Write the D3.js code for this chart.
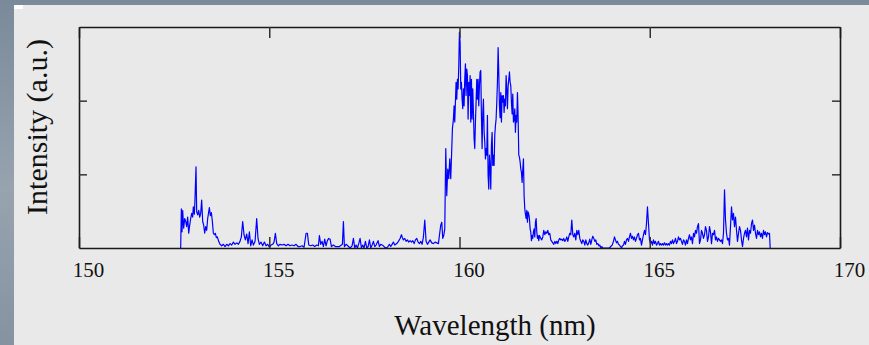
<!DOCTYPE html>
<html>
<head>
<meta charset="utf-8">
<script src="https://cdn.jsdelivr.net/npm/d3@7"></script>
<style>
  html, body { margin: 0; padding: 0; }
  body { width: 869px; height: 345px; overflow: hidden; }
  text { font-family: "Liberation Serif", "Times New Roman", serif; fill: #111; }
</style>
</head>
<body>
<div id="chart"></div>
<script>
// x ticks (nm) and inner y ticks (a.u.)
const xTicks = [150, 155, 160, 165, 170];
const yTicks = [1, 2];

// spectrum
const wavelength = [
  152.672, 152.690, 152.708, 152.725, 152.751, 152.778, 152.804, 152.830, 152.856, 152.883,
  152.909, 152.935, 152.962, 152.988, 153.005, 153.032, 153.049, 153.075, 153.093, 153.119,
  153.146, 153.172, 153.198, 153.224, 153.251, 153.277, 153.303, 153.330, 153.356, 153.382,
  153.409, 153.426, 153.452, 153.479, 153.505, 153.531, 153.558, 153.584, 153.610, 153.636,
  153.671, 153.706, 153.750, 153.794, 153.838, 153.882, 153.926, 153.969, 154.013, 154.057,
  154.101, 154.145, 154.189, 154.232, 154.267, 154.302, 154.337, 154.372, 154.408, 154.443,
  154.478, 154.513, 154.548, 154.583, 154.627, 154.670, 154.705, 154.740, 154.784, 154.828,
  154.872, 154.916, 154.960, 155.003, 155.047, 155.091, 155.126, 155.161, 155.196, 155.240,
  155.284, 155.336, 155.389, 155.441, 155.494, 155.547, 155.599, 155.652, 155.704, 155.757,
  // 155.8 - 159.2
  155.810, 155.863, 155.915, 155.968, 156.003, 156.038, 156.090, 156.143, 156.195, 156.248,
  156.292, 156.318, 156.353, 156.388, 156.423, 156.458, 156.493, 156.528, 156.563, 156.599,
  156.634, 156.686, 156.739, 156.791, 156.844, 156.896, 156.923, 156.949, 156.975, 157.019,
  157.063, 157.124, 157.177, 157.212, 157.247, 157.282, 157.317, 157.352, 157.387, 157.422,
  157.457, 157.492, 157.527, 157.563, 157.598, 157.633, 157.668, 157.703, 157.738, 157.773,
  157.808, 157.860, 157.895, 157.930, 158.000, 158.053, 158.106, 158.158, 158.193, 158.228,
  158.263, 158.298, 158.351, 158.395, 158.439, 158.474, 158.500, 158.526, 158.561, 158.596,
  158.631, 158.666, 158.702, 158.737, 158.772, 158.807, 158.842, 158.877, 158.912, 158.947,
  158.982, 159.017, 159.052, 159.087, 159.122, 159.157, 159.192, 159.227,
  // main band
  159.271, 159.315, 159.358, 159.402, 159.446, 159.472, 159.507, 159.534, 159.560, 159.586,
  159.613, 159.639, 159.665, 159.691, 159.718, 159.744, 159.770, 159.797, 159.814, 159.840,
  159.858, 159.875, 159.893, 159.910, 159.928, 159.946, 159.963, 159.981, 159.998, 160.016,
  160.033, 160.051, 160.068, 160.086, 160.103, 160.121, 160.138, 160.156, 160.173, 160.191,
  160.208, 160.226, 160.244, 160.261, 160.279, 160.296, 160.314, 160.331, 160.349, 160.366,
  160.384, 160.401, 160.419, 160.436, 160.454, 160.471, 160.489, 160.506, 160.524, 160.541,
  160.559, 160.576, 160.594, 160.612, 160.629, 160.647, 160.664, 160.682, 160.699, 160.717,
  160.734, 160.752, 160.769, 160.787, 160.804, 160.822, 160.839, 160.857, 160.874, 160.892,
  160.909, 160.927, 160.944, 160.962, 160.980, 160.997, 161.015, 161.032, 161.050, 161.067,
  161.085, 161.102, 161.120, 161.137, 161.155, 161.172, 161.190, 161.207, 161.225, 161.242,
  161.260, 161.278, 161.295, 161.313, 161.330, 161.348, 161.365, 161.383, 161.400, 161.418,
  161.435, 161.453, 161.470, 161.488, 161.505, 161.523, 161.540, 161.558, 161.576, 161.593,
  161.611, 161.628, 161.646, 161.663, 161.681, 161.698, 161.716, 161.733, 161.751, 161.768,
  161.786, 161.803, 161.821, 161.838, 161.856, 161.873, 161.891, 161.909, 161.926, 161.944,
  161.961, 161.979, 161.996, 162.014, 162.031, 162.049, 162.066, 162.084, 162.101,
  // 162.1 - 168.2
  162.136, 162.163, 162.189, 162.215, 162.241, 162.268, 162.294, 162.320, 162.347, 162.373,
  162.399, 162.425, 162.452, 162.478, 162.504, 162.531, 162.557, 162.583, 162.610, 162.636,
  162.662, 162.688, 162.715, 162.741, 162.767, 162.794, 162.820, 162.846, 162.872, 162.899,
  162.925, 162.951, 162.978, 163.004, 163.030, 163.056, 163.083, 163.109, 163.135, 163.162,
  163.188, 163.214, 163.240, 163.267, 163.293, 163.319, 163.346, 163.372, 163.398, 163.424,
  163.451, 163.477, 163.503, 163.530, 163.556, 163.582, 163.608, 163.635, 163.661, 163.687,
  163.714, 163.740, 163.766, 163.801, 163.836, 163.871, 163.906, 163.941, 163.976, 164.012,
  164.047, 164.073, 164.099, 164.126, 164.152, 164.178, 164.204, 164.231, 164.257, 164.283,
  164.310, 164.336, 164.362, 164.388, 164.415, 164.441, 164.467, 164.494, 164.520, 164.546,
  164.572, 164.599, 164.625, 164.651, 164.678, 164.704, 164.730, 164.756, 164.783, 164.809,
  164.835, 164.862, 164.888, 164.914, 164.940, 164.967, 164.993, 165.019, 165.046, 165.072,
  165.098, 165.124, 165.151, 165.177, 165.203, 165.230, 165.256, 165.282, 165.308, 165.335,
  165.361, 165.387, 165.414, 165.440, 165.466, 165.492, 165.519, 165.545, 165.571, 165.598,
  165.624, 165.650, 165.676, 165.703, 165.729, 165.755, 165.782, 165.808, 165.834, 165.860,
  165.887, 165.913, 165.939, 165.966, 165.992, 166.018, 166.044, 166.071, 166.097, 166.123,
  166.150, 166.176, 166.202, 166.228, 166.255, 166.281, 166.307, 166.334, 166.360, 166.386,
  166.412, 166.439, 166.465, 166.491, 166.518, 166.544, 166.570, 166.596, 166.623, 166.649,
  166.675, 166.702, 166.728, 166.754, 166.780, 166.807, 166.833, 166.859, 166.886, 166.912,
  166.938, 166.965, 166.991, 167.017, 167.043, 167.070, 167.096, 167.122, 167.149, 167.175,
  167.201, 167.227, 167.254, 167.280, 167.306, 167.333, 167.359, 167.385, 167.411, 167.438,
  167.464, 167.490, 167.517, 167.543, 167.569, 167.595, 167.622, 167.648, 167.674, 167.701,
  167.727, 167.753, 167.779, 167.806, 167.832, 167.858, 167.885, 167.911, 167.937, 167.963,
  167.990, 168.016, 168.042, 168.069, 168.095, 168.121, 168.147, 168.165
];

const intensity = [
  0.00, 0.53, 0.22, 0.51, 0.27, 0.40, 0.36, 0.29, 0.42, 0.20,
  0.31, 0.40, 0.47, 0.42, 0.56, 0.46, 0.67, 1.10, 0.49, 0.45,
  0.51, 0.42, 0.47, 0.65, 0.36, 0.31, 0.20, 0.29, 0.24, 0.40,
  0.49, 0.55, 0.44, 0.48, 0.36, 0.20, 0.18, 0.20, 0.14, 0.15,
  0.09, 0.05, 0.03, 0.05, 0.02, 0.05, 0.03, 0.06, 0.04, 0.08,
  0.05, 0.07, 0.05, 0.09, 0.15, 0.36, 0.18, 0.11, 0.19, 0.06,
  0.22, 0.03, 0.11, 0.04, 0.09, 0.40, 0.13, 0.05, 0.08, 0.03,
  0.08, 0.03, 0.05, 0.01, 0.04, 0.05, 0.08, 0.20, 0.06, 0.03,
  0.05, 0.04, 0.05, 0.03, 0.05, 0.03, 0.04, 0.03, 0.05, 0.02,
  // 155.8 - 159.2
  0.02, 0.03, 0.01, 0.20, 0.20, 0.04, 0.03, 0.04, 0.02, 0.04,
  0.03, 0.17, 0.05, 0.09, 0.02, 0.12, 0.03, 0.10, 0.13, 0.12,
  0.02, 0.04, 0.02, 0.02, 0.02, 0.04, 0.05, 0.36, 0.02, 0.05,
  0.03, 0.00, 0.03, 0.13, 0.00, 0.04, 0.00, 0.06, 0.13, 0.00,
  0.04, 0.00, 0.09, 0.00, 0.02, 0.11, 0.00, 0.04, 0.09, 0.02,
  0.04, 0.10, 0.02, 0.05, 0.03, 0.00, 0.01, 0.05, 0.02, 0.05,
  0.08, 0.04, 0.06, 0.09, 0.13, 0.18, 0.14, 0.11, 0.13, 0.09,
  0.11, 0.08, 0.10, 0.08, 0.10, 0.06, 0.11, 0.13, 0.08, 0.06,
  0.09, 0.05, 0.15, 0.38, 0.09, 0.05, 0.08, 0.11,
  // main band
  0.07, 0.06, 0.08, 0.07, 0.06, 0.17, 0.31, 0.35, 0.13, 0.17,
  0.26, 1.35, 0.71, 1.07, 0.94, 1.21, 0.94, 1.35, 1.62, 1.75,
  1.93, 1.71, 1.98, 2.25, 2.02, 2.29, 2.16, 2.47, 2.93, 2.79,
  2.16, 2.25, 2.02, 1.89, 2.16, 1.93, 2.29, 2.50, 2.07, 2.43,
  2.34, 1.75, 2.25, 2.07, 2.34, 1.71, 2.29, 1.75, 2.16, 1.84,
  1.48, 1.35, 1.71, 1.98, 2.29, 2.02, 2.29, 1.93, 2.20, 2.39,
  2.41, 1.80, 1.35, 1.84, 2.02, 1.57, 1.44, 1.21, 1.35, 1.26,
  1.80, 0.98, 0.80, 1.26, 1.12, 0.80, 1.39, 1.57, 1.12, 1.26,
  1.12, 1.53, 1.66, 1.75, 1.98, 2.25, 2.72, 2.39, 1.93, 1.77,
  2.11, 1.71, 2.07, 1.98, 2.07, 1.84, 2.02, 1.93, 2.34, 2.16,
  1.89, 2.20, 2.29, 2.39, 2.25, 2.20, 1.98, 1.82, 2.09, 1.71,
  1.75, 1.89, 1.57, 1.80, 1.71, 2.11, 1.80, 1.26, 1.23, 1.17,
  1.07, 1.03, 0.89, 1.07, 1.21, 0.71, 0.53, 0.46, 0.40, 0.51,
  0.35, 0.49, 0.46, 0.40, 0.26, 0.22, 0.10, 0.17, 0.13, 0.22,
  0.26, 0.15, 0.35, 0.40, 0.22, 0.13, 0.17, 0.10, 0.17,
  // 162.1 - 168.2
  0.13, 0.11, 0.15, 0.24, 0.18, 0.22, 0.20, 0.24, 0.18, 0.20,
  0.11, 0.09, 0.07, 0.05, 0.09, 0.06, 0.09, 0.06, 0.11, 0.13,
  0.11, 0.12, 0.10, 0.13, 0.09, 0.11, 0.15, 0.09, 0.15, 0.20,
  0.18, 0.38, 0.18, 0.15, 0.20, 0.11, 0.24, 0.18, 0.24, 0.13,
  0.09, 0.06, 0.11, 0.09, 0.04, 0.11, 0.06, 0.04, 0.07, 0.12,
  0.05, 0.11, 0.16, 0.13, 0.09, 0.11, 0.05, 0.06, 0.03, 0.04,
  0.00, 0.02, 0.00, 0.00, 0.00, 0.00, 0.00, 0.00, 0.02, 0.04,
  0.09, 0.15, 0.11, 0.07, 0.09, 0.05, 0.04, 0.02, 0.00, 0.03,
  0.04, 0.09, 0.05, 0.11, 0.13, 0.09, 0.15, 0.20, 0.13, 0.16,
  0.11, 0.15, 0.09, 0.13, 0.18, 0.20, 0.11, 0.13, 0.04, 0.11,
  0.18, 0.24, 0.18, 0.33, 0.56, 0.33, 0.11, 0.06, 0.09, 0.04,
  0.11, 0.06, 0.09, 0.04, 0.06, 0.09, 0.04, 0.06, 0.04, 0.06,
  0.04, 0.07, 0.04, 0.06, 0.04, 0.06, 0.04, 0.09, 0.06, 0.11,
  0.06, 0.09, 0.13, 0.06, 0.09, 0.15, 0.11, 0.13, 0.09, 0.05,
  0.11, 0.09, 0.04, 0.11, 0.06, 0.13, 0.18, 0.11, 0.15, 0.06,
  0.20, 0.15, 0.24, 0.20, 0.29, 0.33, 0.06, 0.11, 0.24, 0.20,
  0.13, 0.18, 0.29, 0.24, 0.09, 0.15, 0.29, 0.22, 0.06, 0.20,
  0.18, 0.24, 0.11, 0.15, 0.09, 0.13, 0.11, 0.09, 0.11, 0.06,
  0.20, 0.79, 0.38, 0.20, 0.11, 0.13, 0.04, 0.29, 0.56, 0.38,
  0.47, 0.29, 0.42, 0.24, 0.09, 0.20, 0.29, 0.24, 0.11, 0.02,
  0.13, 0.20, 0.24, 0.15, 0.27, 0.11, 0.24, 0.20, 0.33, 0.38,
  0.24, 0.31, 0.20, 0.13, 0.24, 0.18, 0.22, 0.15, 0.20, 0.13,
  0.24, 0.18, 0.22, 0.15, 0.21, 0.19, 0.20, 0.00
];

const xDomain = [150, 170];
const yDomain = [0, 3];

class SpectrumPlot {

    constructor(element) {
        this.element = element;
        this.data = wavelength.map((w, i) => ({ w: w, v: intensity[i] }));
        this.draw();
    }

    draw() {
        this.width = 869;
        this.height = 345;
        this.margin = { top: 27, right: 29, bottom: 97, left: 79 };
        this.innerW = this.width - this.margin.left - this.margin.right;
        this.innerH = this.height - this.margin.top - this.margin.bottom;

        this.element.innerHTML = '';
        this.svg = d3.select(this.element).append('svg')
            .attr('width', this.width)
            .attr('height', this.height);

        this.addBackground();

        this.plot = this.svg.append('g')
            .attr('transform', `translate(${this.margin.left},${this.margin.top})`);

        this.createScales();
        this.addLine();
        this.addAxes();
        this.addLabels();
    }

    addBackground() {
        // slide-like blue grey backdrop with a light panel on top
        const defs = this.svg.append('defs');
        const grad = defs.append('linearGradient')
            .attr('id', 'backdrop')
            .attr('x1', 0).attr('y1', 0).attr('x2', 0).attr('y2', 1);
        grad.append('stop').attr('offset', '0%').attr('stop-color', '#7a8a9a');
        grad.append('stop').attr('offset', '55%').attr('stop-color', '#97a3af');
        grad.append('stop').attr('offset', '100%').attr('stop-color', '#8593a1');

        this.svg.append('rect')
            .attr('width', this.width)
            .attr('height', this.height)
            .attr('fill', 'url(#backdrop)');

        this.svg.append('rect')
            .attr('x', 14).attr('y', 5)
            .attr('width', this.width - 14)
            .attr('height', this.height - 5)
            .attr('fill', '#e9e9e9');

        this.svg.append('rect')
            .attr('x', 14).attr('y', 5)
            .attr('width', 9).attr('height', 4)
            .attr('fill', '#ffffff');
    }

    createScales() {
        this.xScale = d3.scaleLinear()
            .domain(xDomain)
            .range([0, this.innerW]);

        this.yScale = d3.scaleLinear()
            .domain(yDomain)
            .range([this.innerH, 0]);
    }

    addLine() {
        const line = d3.line()
            .x(d => this.xScale(d.w))
            .y(d => this.yScale(d.v));

        this.plot.append('path')
            .datum(this.data)
            .attr('fill', 'none')
            .attr('stroke', '#0000ff')
            .attr('stroke-width', 1.2)
            .attr('stroke-linejoin', 'round')
            .attr('d', line);
    }

    addAxes() {
        const xBottom = d3.axisBottom(this.xScale)
            .tickValues(xTicks)
            .tickSize(-11)
            .tickSizeOuter(0)
            .tickFormat(d3.format('d'));

        const xTop = d3.axisTop(this.xScale)
            .tickValues(xTicks)
            .tickSize(-11)
            .tickSizeOuter(0)
            .tickFormat('');

        const yLeft = d3.axisLeft(this.yScale)
            .tickValues(yTicks)
            .tickSize(-8)
            .tickSizeOuter(0)
            .tickFormat('');

        const yRight = d3.axisRight(this.yScale)
            .tickValues(yTicks)
            .tickSize(-8)
            .tickSizeOuter(0)
            .tickFormat('');

        const gb = this.plot.append('g')
            .attr('class', 'x axis')
            .attr('transform', `translate(0,${this.innerH})`)
            .call(xBottom);

        gb.selectAll('text')
            .attr('y', 29)
            .attr('dy', 0)
            .attr('dx', 9)
            .style('font-size', '21px')
            .style('font-family', '"Liberation Serif", "Times New Roman", serif')
            .attr('fill', '#111');

        this.plot.append('g').attr('class', 'x axis').call(xTop);
        this.plot.append('g').attr('class', 'y axis').call(yLeft);
        this.plot.append('g')
            .attr('class', 'y axis')
            .attr('transform', `translate(${this.innerW},0)`)
            .call(yRight);

        this.plot.selectAll('.axis .domain')
            .attr('stroke', '#1a1a1a')
            .attr('stroke-width', 1.6);
        this.plot.selectAll('.axis .tick line')
            .attr('stroke', '#333')
            .attr('stroke-width', 1.5);
    }

    addLabels() {
        this.svg.append('text')
            .attr('x', 495)
            .attr('y', 335)
            .attr('text-anchor', 'middle')
            .style('font-size', '29px')
            .text('Wavelength (nm)');

        this.svg.append('text')
            .attr('transform', 'translate(47,127) rotate(-90)')
            .attr('text-anchor', 'middle')
            .style('font-size', '30px')
            .text('Intensity (a.u.)');
    }
}

new SpectrumPlot(document.getElementById('chart'));
</script>
</body>
</html>
